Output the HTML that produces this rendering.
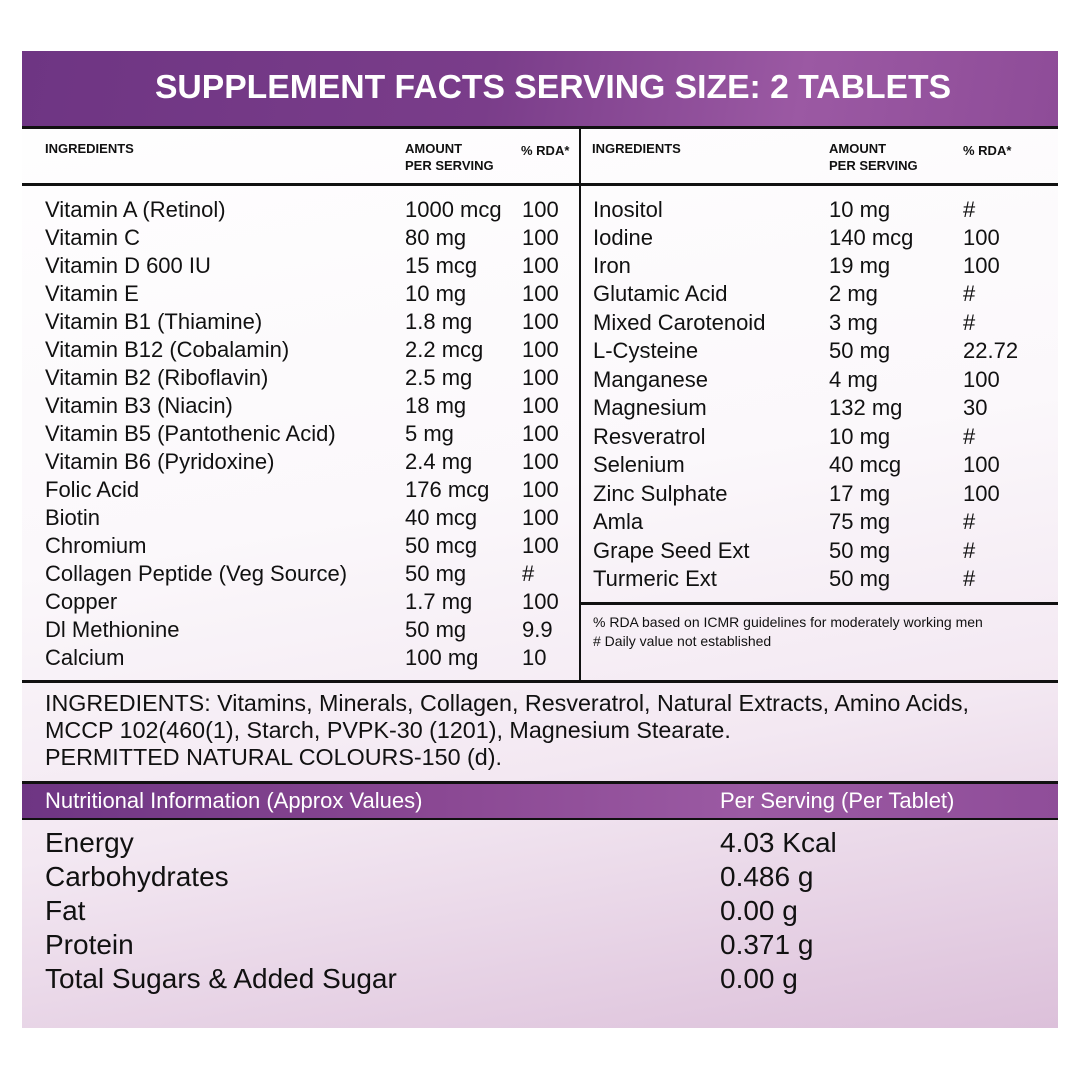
<!DOCTYPE html>
<html><head><meta charset="utf-8"><style>
body{margin:0;width:1080px;height:1080px;background:#fff;position:relative;font-family:"Liberation Sans",sans-serif;color:#111;overflow:hidden}
.p{position:absolute;left:22px;top:51px;width:1036px;height:977px;background:linear-gradient(170deg,#ffffff 0%,#fbf8fb 45%,#f3e8f2 70%,#dcc0da 100%)}
.hd{position:absolute;left:22px;top:51px;width:1036px;height:76px;background:linear-gradient(100deg,#6e3583 0%,#7a3d8a 45%,#9b59a3 75%,#8e4c98 100%)}
.hd div{position:absolute;left:0;right:0;top:0;line-height:72px;text-align:center;color:#fff;font-weight:bold;font-size:33.7px;padding-left:26px}
.ln{position:absolute;background:#111}
.t{position:absolute;font-size:22px;line-height:28px;white-space:nowrap}
.h{position:absolute;font-size:13px;font-weight:bold;line-height:17px;white-space:nowrap}
.s{position:absolute;font-size:14px;line-height:19px;white-space:nowrap}
.n{position:absolute;font-size:28px;line-height:34px;white-space:nowrap}
.band{position:absolute;left:22px;top:784px;width:1036px;height:34px;background:linear-gradient(90deg,#6e3583 0%,#8a4893 40%,#9b5aa3 70%,#8f4d99 100%)}
.band div{position:absolute;color:#fff;font-size:22px;line-height:34px;top:0}
</style></head><body>
<div class="p"></div>
<div class="hd"><div>SUPPLEMENT FACTS SERVING SIZE: 2 TABLETS</div></div>
<div class="ln" style="left:22px;top:126px;width:1036px;height:3px"></div>
<div class="ln" style="left:22px;top:183px;width:1036px;height:3px"></div>
<div class="ln" style="left:579px;top:128px;width:2px;height:553px"></div>
<div class="ln" style="left:580px;top:602px;width:478px;height:3px"></div>
<div class="ln" style="left:22px;top:680px;width:1036px;height:3px"></div>
<div class="ln" style="left:22px;top:781px;width:1036px;height:3px"></div>
<div class="ln" style="left:22px;top:817px;width:1036px;height:3px"></div>

<div class="h" style="left:45px;top:140px">INGREDIENTS</div>
<div class="h" style="left:405px;top:140px">AMOUNT<br>PER SERVING</div>
<div class="h" style="left:521px;top:142px">% RDA*</div>
<div class="h" style="left:592px;top:140px">INGREDIENTS</div>
<div class="h" style="left:829px;top:140px">AMOUNT<br>PER SERVING</div>
<div class="h" style="left:963px;top:142px">% RDA*</div>

<div class="t" style="left:45px;top:196px">Vitamin A (Retinol)</div><div class="t" style="left:405px;top:196px">1000 mcg</div><div class="t" style="left:522px;top:196px">100</div>
<div class="t" style="left:45px;top:224px">Vitamin C</div><div class="t" style="left:405px;top:224px">80 mg</div><div class="t" style="left:522px;top:224px">100</div>
<div class="t" style="left:45px;top:252px">Vitamin D 600 IU</div><div class="t" style="left:405px;top:252px">15 mcg</div><div class="t" style="left:522px;top:252px">100</div>
<div class="t" style="left:45px;top:280px">Vitamin E</div><div class="t" style="left:405px;top:280px">10 mg</div><div class="t" style="left:522px;top:280px">100</div>
<div class="t" style="left:45px;top:308px">Vitamin B1 (Thiamine)</div><div class="t" style="left:405px;top:308px">1.8 mg</div><div class="t" style="left:522px;top:308px">100</div>
<div class="t" style="left:45px;top:336px">Vitamin B12 (Cobalamin)</div><div class="t" style="left:405px;top:336px">2.2 mcg</div><div class="t" style="left:522px;top:336px">100</div>
<div class="t" style="left:45px;top:364px">Vitamin B2 (Riboflavin)</div><div class="t" style="left:405px;top:364px">2.5 mg</div><div class="t" style="left:522px;top:364px">100</div>
<div class="t" style="left:45px;top:392px">Vitamin B3 (Niacin)</div><div class="t" style="left:405px;top:392px">18 mg</div><div class="t" style="left:522px;top:392px">100</div>
<div class="t" style="left:45px;top:420px">Vitamin B5 (Pantothenic Acid)</div><div class="t" style="left:405px;top:420px">5 mg</div><div class="t" style="left:522px;top:420px">100</div>
<div class="t" style="left:45px;top:448px">Vitamin B6 (Pyridoxine)</div><div class="t" style="left:405px;top:448px">2.4 mg</div><div class="t" style="left:522px;top:448px">100</div>
<div class="t" style="left:45px;top:476px">Folic Acid</div><div class="t" style="left:405px;top:476px">176 mcg</div><div class="t" style="left:522px;top:476px">100</div>
<div class="t" style="left:45px;top:504px">Biotin</div><div class="t" style="left:405px;top:504px">40 mcg</div><div class="t" style="left:522px;top:504px">100</div>
<div class="t" style="left:45px;top:532px">Chromium</div><div class="t" style="left:405px;top:532px">50 mcg</div><div class="t" style="left:522px;top:532px">100</div>
<div class="t" style="left:45px;top:560px">Collagen Peptide (Veg Source)</div><div class="t" style="left:405px;top:560px">50 mg</div><div class="t" style="left:522px;top:560px">#</div>
<div class="t" style="left:45px;top:588px">Copper</div><div class="t" style="left:405px;top:588px">1.7 mg</div><div class="t" style="left:522px;top:588px">100</div>
<div class="t" style="left:45px;top:616px">Dl Methionine</div><div class="t" style="left:405px;top:616px">50 mg</div><div class="t" style="left:522px;top:616px">9.9</div>
<div class="t" style="left:45px;top:644px">Calcium</div><div class="t" style="left:405px;top:644px">100 mg</div><div class="t" style="left:522px;top:644px">10</div>

<div class="t" style="left:593px;top:196px">Inositol</div><div class="t" style="left:829px;top:196px">10 mg</div><div class="t" style="left:963px;top:196px">#</div>
<div class="t" style="left:593px;top:224px">Iodine</div><div class="t" style="left:829px;top:224px">140 mcg</div><div class="t" style="left:963px;top:224px">100</div>
<div class="t" style="left:593px;top:252px">Iron</div><div class="t" style="left:829px;top:252px">19 mg</div><div class="t" style="left:963px;top:252px">100</div>
<div class="t" style="left:593px;top:280px">Glutamic Acid</div><div class="t" style="left:829px;top:280px">2 mg</div><div class="t" style="left:963px;top:280px">#</div>
<div class="t" style="left:593px;top:309px">Mixed Carotenoid</div><div class="t" style="left:829px;top:309px">3 mg</div><div class="t" style="left:963px;top:309px">#</div>
<div class="t" style="left:593px;top:337px">L-Cysteine</div><div class="t" style="left:829px;top:337px">50 mg</div><div class="t" style="left:963px;top:337px">22.72</div>
<div class="t" style="left:593px;top:366px">Manganese</div><div class="t" style="left:829px;top:366px">4 mg</div><div class="t" style="left:963px;top:366px">100</div>
<div class="t" style="left:593px;top:394px">Magnesium</div><div class="t" style="left:829px;top:394px">132 mg</div><div class="t" style="left:963px;top:394px">30</div>
<div class="t" style="left:593px;top:423px">Resveratrol</div><div class="t" style="left:829px;top:423px">10 mg</div><div class="t" style="left:963px;top:423px">#</div>
<div class="t" style="left:593px;top:451px">Selenium</div><div class="t" style="left:829px;top:451px">40 mcg</div><div class="t" style="left:963px;top:451px">100</div>
<div class="t" style="left:593px;top:480px">Zinc Sulphate</div><div class="t" style="left:829px;top:480px">17 mg</div><div class="t" style="left:963px;top:480px">100</div>
<div class="t" style="left:593px;top:508px">Amla</div><div class="t" style="left:829px;top:508px">75 mg</div><div class="t" style="left:963px;top:508px">#</div>
<div class="t" style="left:593px;top:537px">Grape Seed Ext</div><div class="t" style="left:829px;top:537px">50 mg</div><div class="t" style="left:963px;top:537px">#</div>
<div class="t" style="left:593px;top:565px">Turmeric Ext</div><div class="t" style="left:829px;top:565px">50 mg</div><div class="t" style="left:963px;top:565px">#</div>

<div class="s" style="left:593px;top:613px">% RDA based on ICMR guidelines for moderately working men</div>
<div class="s" style="left:593px;top:632px"># Daily value not established</div>

<div class="t" style="left:45px;top:690px;line-height:27px;font-size:23.3px">INGREDIENTS: Vitamins, Minerals, Collagen, Resveratrol, Natural Extracts, Amino Acids,<br>MCCP 102(460(1), Starch, PVPK-30 (1201), Magnesium Stearate.<br>PERMITTED NATURAL COLOURS-150 (d).</div>

<div class="band"><div style="left:23px">Nutritional Information (Approx Values)</div><div style="left:698px">Per Serving (Per Tablet)</div></div>

<div class="n" style="left:45px;top:826px">Energy</div><div class="n" style="left:720px;top:826px">4.03 Kcal</div>
<div class="n" style="left:45px;top:860px">Carbohydrates</div><div class="n" style="left:720px;top:860px">0.486 g</div>
<div class="n" style="left:45px;top:894px">Fat</div><div class="n" style="left:720px;top:894px">0.00 g</div>
<div class="n" style="left:45px;top:928px">Protein</div><div class="n" style="left:720px;top:928px">0.371 g</div>
<div class="n" style="left:45px;top:962px">Total Sugars &amp; Added Sugar</div><div class="n" style="left:720px;top:962px">0.00 g</div>
</body></html>
